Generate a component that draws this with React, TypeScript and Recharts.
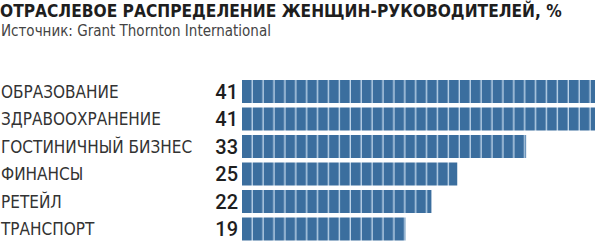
import React from 'react';
import { BarChart, Bar, XAxis, YAxis } from 'recharts';

const categories = [
  'ОБРАЗОВАНИЕ',
  'ЗДРАВООХРАНЕНИЕ',
  'ГОСТИНИЧНЫЙ БИЗНЕС',
  'ФИНАНСЫ',
  'РЕТЕЙЛ',
  'ТРАНСПОРТ',
];
const shares = [41, 41, 33, 25, 22, 19];

const title = 'ОТРАСЛЕВОЕ РАСПРЕДЕЛЕНИЕ ЖЕНЩИН-РУКОВОДИТЕЛЕЙ, %';
const source = 'Источник: Grant Thornton International';

const chartData = categories.map((name, i) => ({ name, value: shares[i] }));

const FONT = '"DejaVu Sans Condensed", "DejaVu Sans", sans-serif';

const CategoryTick = (props: any) => {
  const { y, payload } = props;
  const idx = payload.index;
  return (
    <g>
      <text x={1} y={y} dy={6} fontFamily={FONT} fontSize={17} fill="#333" textAnchor="start">
        {payload.value}
      </text>
      <text x={238} y={y} dy={7} fontFamily="Roboto, sans-serif" fontWeight={500} fontSize={20} fill="#1e1e1e" textAnchor="end">
        {shares[idx]}
      </text>
    </g>
  );
};

const App: React.FC = () => {
  return (
    <div style={{ position: 'absolute', left: 0, top: 0, width: 600, height: 244, background: '#fff' }}>
      <div style={{ position: 'absolute', left: 0, top: 1, fontFamily: FONT, fontWeight: 'bold', fontSize: 17.2, color: '#1e1e1e', whiteSpace: 'nowrap', lineHeight: '20px' }}>
        {title}
      </div>
      <div style={{ position: 'absolute', left: 1, top: 22, fontFamily: FONT, fontSize: 15, color: '#444', whiteSpace: 'nowrap', lineHeight: '18px' }}>
        {source}
      </div>
      <BarChart
        width={600}
        height={244}
        data={chartData}
        layout="vertical"
        margin={{ top: 78, right: 5, bottom: 1, left: 0 }}
        barSize={23}
      >
        <defs>
          <pattern id="segments" patternUnits="userSpaceOnUse" x={242} y={0} width={10.9} height={244}>
            <rect x={0} y={0} width={10.9} height={244} fill="#3b6e9e" />
            <rect x={9.5} y={0} width={1.4} height={244} fill="#bcd3e8" />
          </pattern>
        </defs>
        <XAxis type="number" domain={[0, 41]} hide />
        <YAxis
          type="category"
          dataKey="name"
          width={242}
          axisLine={false}
          tickLine={false}
          tick={<CategoryTick />}
          interval={0}
        />
        <Bar dataKey="value" fill="url(#segments)" isAnimationActive={false} />
      </BarChart>
    </div>
  );
};

export default App;
